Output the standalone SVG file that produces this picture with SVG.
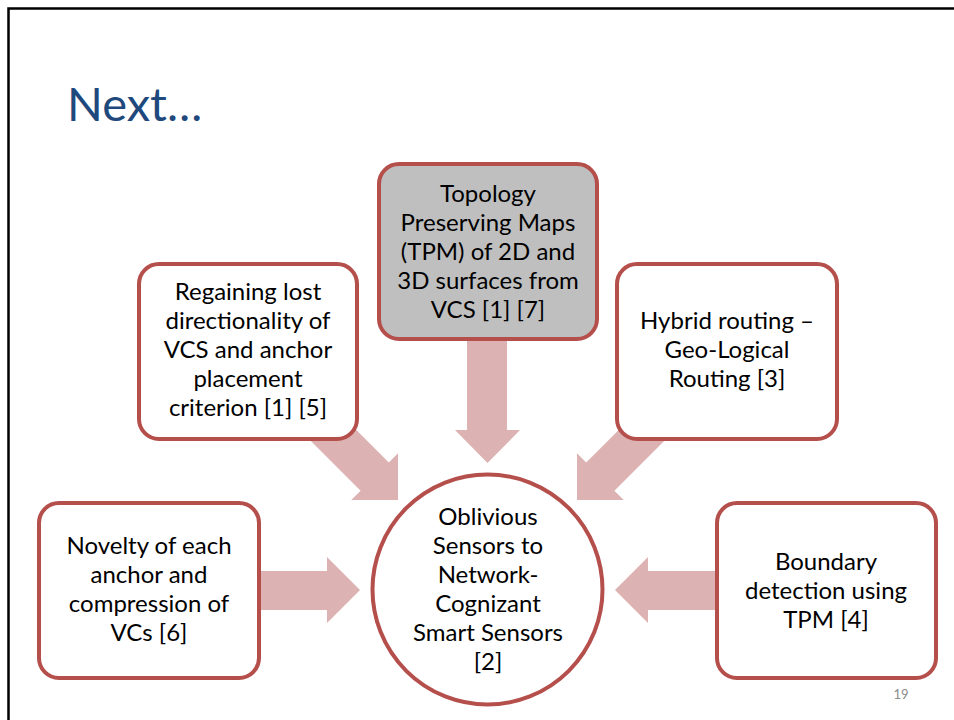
<svg xmlns="http://www.w3.org/2000/svg" width="954" height="720" viewBox="0 0 954 720">
  <style>
    .box { fill: #ffffff; stroke: #B54F4C; stroke-width: 4; }
    .box.hl { fill: #BFBFBF; }
    .arrow { fill: #DDB2B2; }
    .label { font-family: Lato, "Liberation Sans", sans-serif; font-size: 24px; fill: #000000; text-anchor: middle; }
    .title { font-family: Lato, "Liberation Sans", sans-serif; font-size: 47px; fill: #1F497D; }
    .pageno { font-family: Lato, "Liberation Sans", sans-serif; font-size: 13px; fill: #8C8C8C; text-anchor: middle; }
  </style>

  <rect x="0" y="0" width="954" height="720" fill="#ffffff"/>
  <!-- slide frame -->
  <path d="M8.5,720 V8.5 H954" fill="none" stroke="#000000" stroke-width="2.5"/>

  <text class="title" x="67" y="121">Next…</text>

  <!-- block arrows pointing into the centre circle -->
  <g id="connectors">
    <!-- from top centre box (down) -->
    <polygon class="arrow" points="467,338 507,338 507,430 520,430 487.5,463 455,430 467,430"/>
    <!-- from upper-left box (diagonal down-right) -->
    <polygon class="arrow" points="298.8,372.6 388.8,462.6 398,453.3 398,500 351.3,500 360.6,490.8 270.6,400.8"/>
    <!-- from upper-right box (diagonal down-left) -->
    <polygon class="arrow" points="676.2,372.6 586.2,462.6 577,453.3 577,500 623.7,500 614.4,490.8 704.4,400.8"/>
    <!-- from lower-left box (right) -->
    <polygon class="arrow" points="255,571 327,571 327,557 360,590 327,623 327,610 255,610"/>
    <!-- from lower-right box (left) -->
    <polygon class="arrow" points="720,571 648,571 648,557 615,590 648,623 648,610 720,610"/>
  </g>

  <g id="node-regaining">
    <rect class="box" x="139" y="264" width="218" height="175" rx="20"/>
    <text class="label" x="248" y="300">Regaining lost</text>
    <text class="label" x="248" y="329">directionality of</text>
    <text class="label" x="248" y="358">VCS and anchor</text>
    <text class="label" x="248" y="387">placement</text>
    <text class="label" x="248" y="416">criterion [1] [5]</text>
  </g>

  <g id="node-topology">
    <rect class="box hl" x="379" y="164" width="218" height="175" rx="20"/>
    <text class="label" x="488" y="202">Topology</text>
    <text class="label" x="488" y="231">Preserving Maps</text>
    <text class="label" x="488" y="260">(TPM) of 2D and</text>
    <text class="label" x="488" y="289">3D surfaces from</text>
    <text class="label" x="488" y="318">VCS [1] [7]</text>
  </g>

  <g id="node-hybrid">
    <rect class="box" x="617" y="264" width="220" height="175" rx="20"/>
    <text class="label" x="727" y="329">Hybrid routing –</text>
    <text class="label" x="727" y="358">Geo-Logical</text>
    <text class="label" x="727" y="387">Routing [3]</text>
  </g>

  <g id="node-novelty">
    <rect class="box" x="39" y="503" width="220" height="175" rx="20"/>
    <text class="label" x="149" y="554">Novelty of each</text>
    <text class="label" x="149" y="583">anchor and</text>
    <text class="label" x="149" y="612">compression of</text>
    <text class="label" x="149" y="641">VCs [6]</text>
  </g>

  <g id="node-boundary">
    <rect class="box" x="717" y="503" width="219" height="175" rx="20"/>
    <text class="label" x="826" y="570">Boundary</text>
    <text class="label" x="826" y="599">detection using</text>
    <text class="label" x="826" y="628">TPM [4]</text>
  </g>

  <g id="node-centre">
    <circle class="box" cx="487.5" cy="589.5" r="115"/>
    <text class="label" x="488" y="525">Oblivious</text>
    <text class="label" x="488" y="554">Sensors to</text>
    <text class="label" x="488" y="583">Network-</text>
    <text class="label" x="488" y="612">Cognizant</text>
    <text class="label" x="488" y="641">Smart Sensors</text>
    <text class="label" x="488" y="670">[2]</text>
  </g>

  <text class="pageno" x="901" y="699">19</text>
</svg>
